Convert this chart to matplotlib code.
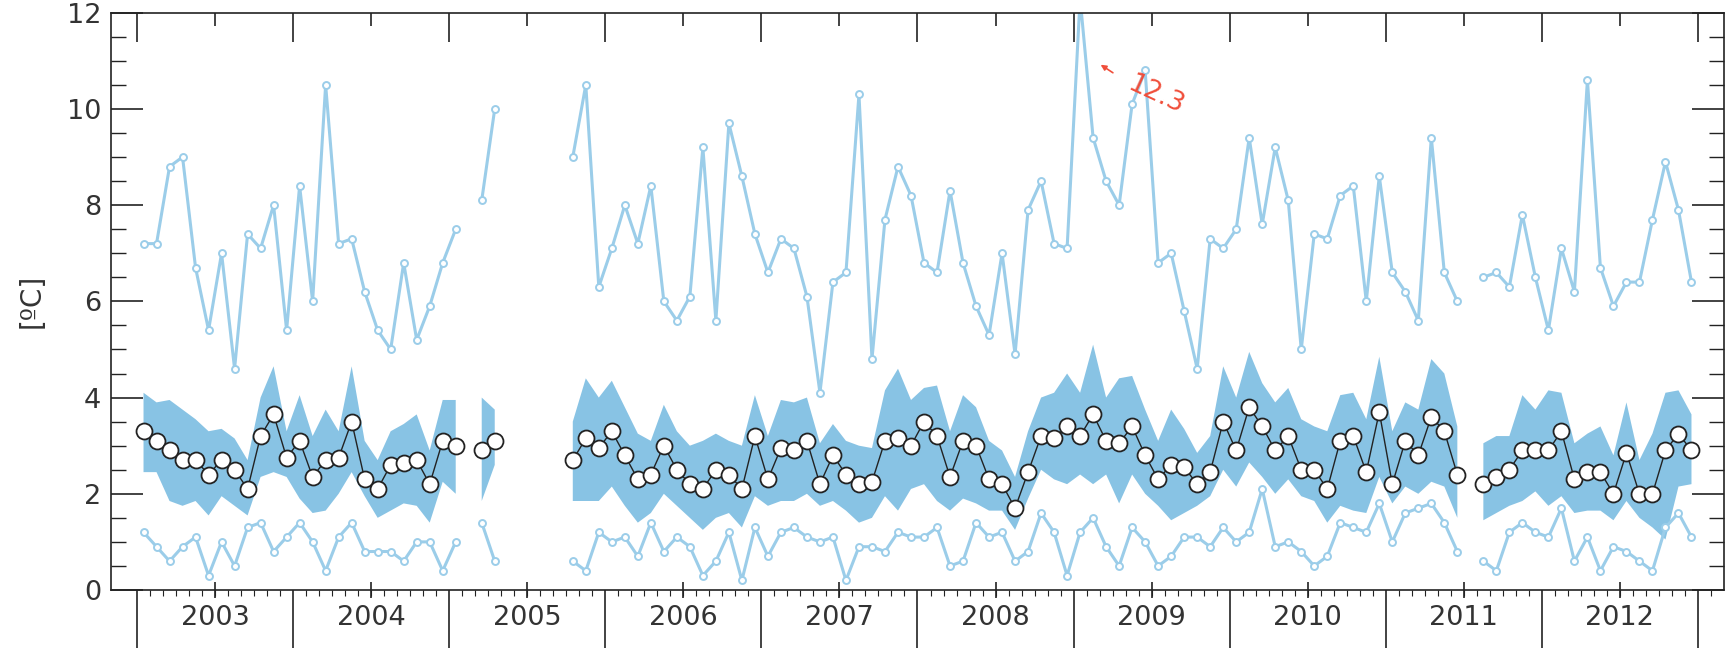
import numpy as np
import matplotlib
matplotlib.use("Agg")
import matplotlib.pyplot as plt

nan = np.nan

# monthly values, Jan 2003 .. Dec 2012 (nan = no data)
years = list(range(2003, 2013))

t_max = [7.2, 7.2, 8.8, 9.0, 6.7, 5.4, 7.0, 4.6, 7.4, 7.1, 8.0, 5.4,
         8.4, 6.0, 10.5, 7.2, 7.3, 6.2, 5.4, 5.0, 6.8, 5.2, 5.9, 6.8,
         7.5, nan, 8.1, 10.0, nan, nan, nan, nan, nan, 9.0, 10.5, 6.3,
         7.1, 8.0, 7.2, 8.4, 6.0, 5.6, 6.1, 9.2, 5.6, 9.7, 8.6, 7.4,
         6.6, 7.3, 7.1, 6.1, 4.1, 6.4, 6.6, 10.3, 4.8, 7.7, 8.8, 8.2,
         6.8, 6.6, 8.3, 6.8, 5.9, 5.3, 7.0, 4.9, 7.9, 8.5, 7.2, 7.1,
         12.3, 9.4, 8.5, 8.0, 10.1, 10.8, 6.8, 7.0, 5.8, 4.6, 7.3, 7.1,
         7.5, 9.4, 7.6, 9.2, 8.1, 5.0, 7.4, 7.3, 8.2, 8.4, 6.0, 8.6,
         6.6, 6.2, 5.6, 9.4, 6.6, 6.0, nan, 6.5, 6.6, 6.3, 7.8, 6.5,
         5.4, 7.1, 6.2, 10.6, 6.7, 5.9, 6.4, 6.4, 7.7, 8.9, 7.9, 6.4]

t_min = [1.2, 0.9, 0.6, 0.9, 1.1, 0.3, 1.0, 0.5, 1.3, 1.4, 0.8, 1.1,
         1.4, 1.0, 0.4, 1.1, 1.4, 0.8, 0.8, 0.8, 0.6, 1.0, 1.0, 0.4,
         1.0, nan, 1.4, 0.6, nan, nan, nan, nan, nan, 0.6, 0.4, 1.2,
         1.0, 1.1, 0.7, 1.4, 0.8, 1.1, 0.9, 0.3, 0.6, 1.2, 0.2, 1.3,
         0.7, 1.2, 1.3, 1.1, 1.0, 1.1, 0.2, 0.9, 0.9, 0.8, 1.2, 1.1,
         1.1, 1.3, 0.5, 0.6, 1.4, 1.1, 1.2, 0.6, 0.8, 1.6, 1.2, 0.3,
         1.2, 1.5, 0.9, 0.5, 1.3, 1.0, 0.5, 0.7, 1.1, 1.1, 0.9, 1.3,
         1.0, 1.2, 2.1, 0.9, 1.0, 0.8, 0.5, 0.7, 1.4, 1.3, 1.2, 1.8,
         1.0, 1.6, 1.7, 1.8, 1.4, 0.8, nan, 0.6, 0.4, 1.2, 1.4, 1.2,
         1.1, 1.7, 0.6, 1.1, 0.4, 0.9, 0.8, 0.6, 0.4, 1.3, 1.6, 1.1]

t_mean = [3.3, 3.1, 2.9, 2.7, 2.7, 2.4, 2.7, 2.5, 2.1, 3.2, 3.65, 2.75,
          3.1, 2.35, 2.7, 2.75, 3.5, 2.3, 2.1, 2.6, 2.65, 2.7, 2.2, 3.1,
          3.0, nan, 2.9, 3.1, nan, nan, nan, nan, nan, 2.7, 3.15, 2.95,
          3.3, 2.8, 2.3, 2.4, 3.0, 2.5, 2.2, 2.1, 2.5, 2.4, 2.1, 3.2,
          2.3, 2.95, 2.9, 3.1, 2.2, 2.8, 2.4, 2.2, 2.25, 3.1, 3.15, 3.0,
          3.5, 3.2, 2.35, 3.1, 3.0, 2.3, 2.2, 1.7, 2.45, 3.2, 3.15, 3.4,
          3.2, 3.65, 3.1, 3.05, 3.4, 2.8, 2.3, 2.6, 2.55, 2.2, 2.45, 3.5,
          2.9, 3.8, 3.4, 2.9, 3.2, 2.5, 2.5, 2.1, 3.1, 3.2, 2.45, 3.7,
          2.2, 3.1, 2.8, 3.6, 3.3, 2.4, nan, 2.2, 2.35, 2.5, 2.9, 2.9,
          2.9, 3.3, 2.3, 2.45, 2.45, 2.0, 2.85, 2.0, 2.0, 2.9, 3.25, 2.9]

band_hi = [4.1, 3.9, 3.95, 3.75, 3.55, 3.3, 3.35, 3.15, 2.7, 4.0, 4.65, 3.3,
           4.05, 3.2, 3.75, 3.3, 4.65, 3.1, 2.7, 3.3, 3.45, 3.65, 2.9, 3.95,
           3.95, nan, 4.0, 3.75, nan, nan, nan, nan, nan, 3.5, 4.4, 4.0,
           4.35, 3.8, 3.25, 3.1, 3.85, 3.3, 3.0, 3.1, 3.25, 3.1, 3.0, 4.05,
           3.2, 3.95, 3.9, 4.0, 3.05, 3.45, 3.1, 3.0, 2.95, 4.15, 4.6, 3.95,
           4.2, 4.25, 3.3, 4.05, 3.8, 3.1, 2.9, 2.35, 3.3, 4.0, 4.1, 4.5,
           4.1, 5.1, 4.0, 4.4, 4.45, 3.75, 3.1, 3.75, 3.35, 2.85, 3.2, 4.65,
           4.0, 4.95, 4.3, 3.9, 4.2, 3.55, 3.4, 3.3, 4.05, 4.1, 3.55, 4.85,
           3.3, 3.9, 3.75, 4.8, 4.5, 3.4, nan, 3.05, 3.2, 3.2, 4.05, 3.75,
           4.15, 4.1, 3.05, 3.25, 3.4, 2.8, 3.9, 2.7, 3.25, 4.1, 4.15, 3.65]

band_lo = [2.45, 2.45, 1.85, 1.75, 1.85, 1.55, 1.95, 1.75, 1.55, 2.35, 2.45, 2.35,
           1.9, 1.6, 1.65, 2.0, 2.45, 1.95, 1.5, 1.65, 1.8, 1.75, 1.4, 2.25,
           2.0, nan, 1.85, 2.6, nan, nan, nan, nan, nan, 1.85, 1.85, 1.85,
           2.15, 1.75, 1.4, 1.6, 2.0, 1.75, 1.5, 1.25, 1.5, 1.6, 1.3, 1.95,
           1.75, 1.85, 1.85, 2.0, 1.75, 1.85, 1.65, 1.4, 1.5, 1.95, 1.65, 2.1,
           2.2, 1.85, 1.65, 1.9, 1.8, 1.65, 1.65, 1.25, 1.9, 2.5, 2.3, 2.2,
           2.4, 2.2, 2.4, 1.8, 2.4, 2.0, 1.75, 1.45, 1.6, 1.75, 1.95, 2.5,
           2.15, 2.65, 2.35, 2.0, 2.3, 1.95, 1.85, 1.4, 1.75, 1.65, 1.6, 2.35,
           1.8, 2.15, 2.0, 2.25, 2.15, 1.5, nan, 1.45, 1.6, 1.75, 1.85, 2.05,
           1.75, 1.95, 1.6, 1.65, 1.65, 1.45, 1.85, 1.5, 1.3, 1.05, 2.15, 2.2]

# x in months since Jan 2003, points sit mid-month
x = np.arange(len(t_mean)) + 0.5

plt.rcParams['font.family'] = ['DejaVu Sans']
txt_col = '#333333'
ax_col = '#222222'
band_col = '#88c3e4'
line_col = '#9bcde9'
red = '#f04e3a'

fig = plt.figure(figsize=(17.31, 6.52), dpi=100)
ax = fig.add_axes([111 / 1731, 1 - 590 / 652, (1724 - 111) / 1731, (590 - 12.7) / 652])

ax.fill_between(x, band_lo, band_hi, color=band_col, lw=0, zorder=1)
for s in (t_max, t_min):
    ax.plot(x, s, color=line_col, lw=2.2, marker='o', ms=5, mfc='white',
            mec=line_col, mew=1.4, zorder=2)
ax.plot(x, t_mean, color=ax_col, lw=1.0, marker='o', ms=11.5, mfc='white',
        mec=ax_col, mew=1.3, zorder=4)

ax.set_xlim(-2, 122)
ax.set_ylim(0, 12)

for sp in ax.spines.values():
    sp.set_color(ax_col)
    sp.set_linewidth(1.2)

# bottom: long year-boundary ticks + monthly minor ticks
ax.set_xticks(np.arange(0, 121, 12))
ax.set_xticks(np.arange(0, 122, 1), minor=True)
ax.tick_params(axis='x', which='major', direction='out', length=42, width=1.2,
               color=ax_col, labelbottom=False, top=False)
ax.tick_params(axis='x', which='minor', direction='out', length=4, width=0.8,
               color=ax_col, top=False)

# top: year and half-year ticks, no labels
top = ax.secondary_xaxis('top')
top.set_xticks(np.arange(0, 121, 12))
top.set_xticks(np.arange(6, 121, 12), minor=True)
top.tick_params(which='major', direction='in', length=21, width=1.2, color=ax_col,
                labeltop=False)
top.tick_params(which='minor', direction='in', length=9, width=1.2, color=ax_col)
top.spines['top'].set_visible(False)

# year labels at mid-year
bot = ax.secondary_xaxis('bottom')
bot.set_xticks(np.arange(6, 120, 12), labels=[str(y) for y in years])
bot.tick_params(direction='inout', length=12, width=1.2, color=ax_col, pad=5,
                labelsize=19.5, labelcolor=txt_col)
bot.spines['bottom'].set_visible(False)

ax.set_yticks(range(0, 13, 2))
ax.set_yticks(np.arange(0, 12.01, 0.5), minor=True)
ax.tick_params(axis='y', which='major', direction='in', length=23, width=1.2,
               color=ax_col, right=True, pad=7, labelsize=19.5, labelcolor=txt_col)
ax.tick_params(axis='y', which='minor', direction='in', length=11, width=1.0,
               color=ax_col, right=True)

fig.text(32 / 1731, 1 - 301 / 652, '[ºC]', rotation=90, ha='center', va='center',
         fontsize=20, color=txt_col)

# off-scale maximum (Jan 2009)
ax.annotate('', xy=(73.9, 10.95), xytext=(75.2, 10.72),
            arrowprops=dict(arrowstyle='-|>', color=red, lw=1.2, mutation_scale=8))
ax.text(78.3, 10.28, '12.3', color=red, rotation=-25, ha='center', va='center',
        fontsize=19)

fig.savefig('out.png', dpi=100)
